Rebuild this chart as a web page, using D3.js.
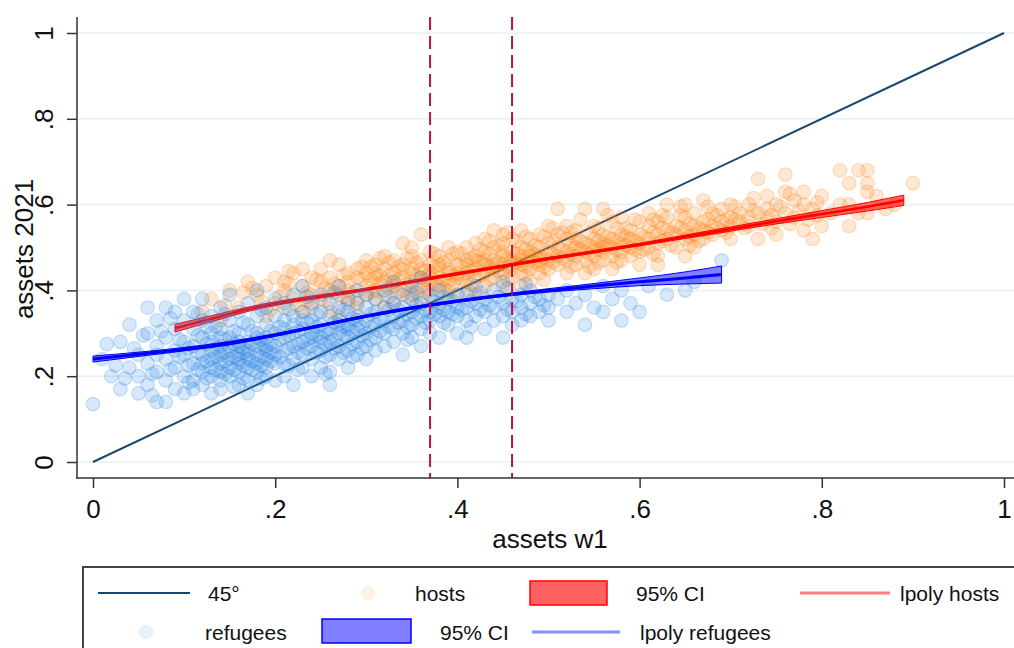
<!DOCTYPE html>
<html><head><meta charset="utf-8">
<script src="https://cdn.jsdelivr.net/npm/d3@7"></script>
<style>
html,body{margin:0;padding:0;background:#fff;}
svg{display:block;font-family:"Liberation Sans",Arial,Helvetica,sans-serif;}
</style></head>
<body>
<svg id="chart" width="1014" height="648"></svg>
<script>
// ---------- DATA ----------
const yTicks = [0, 0.2, 0.4, 0.6, 0.8, 1];
const xTicks = [0, 0.2, 0.4, 0.6, 0.8, 1];
const tickLabels = ["0", ".2", ".4", ".6", ".8", "1"];
const vLines = [0.37, 0.46];
const diag = [[0, 0], [1, 1]];

const hosts = [
[.12,.35],[.13,.38],[.14,.33],[.15,.40],[.16,.36],[.17,.42],[.18,.39],[.19,.34],[.19,.41],[.20,.37],
[.20,.43],[.21,.36],[.21,.40],[.22,.38],[.22,.44],[.23,.35],[.23,.41],[.24,.39],[.24,.43],[.24,.36],[.25,.42],[.25,.38],[.25,.45],[.26,.40],[.26,.35],[.26,.43],[.27,.39],[.27,.41],[.27,.46],[.28,.37],[.28,.42],[.28,.44],[.28,.40],[.29,.38],[.29,.43],[.29,.45],[.29,.36],[.30,.41],[.30,.44],[.30,.39],[.30,.47],[.23,.45],[.26,.47],[.21,.42],[.27,.34],
[.31,.40],[.31,.43],[.31,.46],[.31,.38],[.32,.42],[.32,.45],[.32,.48],[.32,.39],[.33,.41],[.33,.44],[.33,.47],[.33,.37],[.34,.43],[.34,.46],[.34,.40],[.34,.51],[.35,.42],[.35,.45],[.35,.48],[.35,.39],[.35,.44],[.36,.41],[.36,.43],[.36,.47],[.36,.53],[.36,.38],[.37,.44],[.37,.42],[.37,.46],[.37,.49],[.37,.40],[.38,.43],[.38,.45],[.38,.41],[.38,.48],[.38,.37],[.39,.44],[.39,.42],[.39,.47],[.39,.50],[.39,.40],[.40,.43],[.40,.46],[.40,.44],[.40,.49],[.40,.39],[.31,.44],[.33,.42],[.34,.45],[.36,.45],[.37,.43],[.38,.46],[.39,.45],[.32,.36],[.35,.50],
[.41,.44],[.41,.47],[.41,.42],[.41,.50],[.42,.45],[.42,.48],[.42,.43],[.42,.51],[.42,.39],[.43,.46],[.43,.44],[.43,.49],[.43,.52],[.43,.41],[.44,.45],[.44,.47],[.44,.50],[.44,.43],[.44,.54],[.45,.46],[.45,.48],[.45,.44],[.45,.51],[.45,.41],[.46,.47],[.46,.45],[.46,.49],[.46,.52],[.46,.43],[.47,.46],[.47,.48],[.47,.50],[.47,.44],[.47,.54],[.48,.47],[.48,.45],[.48,.49],[.48,.52],[.48,.42],[.49,.48],[.49,.46],[.49,.50],[.49,.53],[.49,.44],[.50,.47],[.50,.49],[.50,.51],[.50,.45],[.50,.55],[.41,.46],[.43,.47],[.44,.46],[.45,.49],[.46,.46],[.47,.47],[.48,.48],[.49,.47],[.42,.47],[.45,.53],[.47,.41],
[.51,.48],[.51,.50],[.51,.46],[.51,.53],[.51,.59],[.52,.49],[.52,.47],[.52,.52],[.52,.44],[.52,.55],[.53,.48],[.53,.50],[.53,.46],[.53,.54],[.54,.49],[.54,.51],[.54,.47],[.54,.59],[.54,.44],[.55,.50],[.55,.48],[.55,.52],[.55,.55],[.55,.45],[.56,.49],[.56,.51],[.56,.47],[.56,.59],[.56,.53],[.57,.50],[.57,.52],[.57,.48],[.57,.56],[.57,.45],[.58,.51],[.58,.49],[.58,.53],[.58,.47],[.58,.57],[.59,.50],[.59,.52],[.59,.54],[.59,.48],[.60,.51],[.60,.53],[.60,.49],[.60,.56],[.60,.46],[.53,.52],[.56,.50],
[.61,.52],[.61,.50],[.61,.55],[.61,.58],[.62,.53],[.62,.51],[.62,.56],[.62,.48],[.63,.52],[.63,.54],[.63,.57],[.63,.60],[.64,.53],[.64,.50],[.64,.55],[.65,.48],[.65,.54],[.65,.52],[.65,.57],[.65,.60],[.66,.53],[.66,.55],[.66,.50],[.66,.58],[.67,.54],[.67,.56],[.67,.52],[.67,.61],[.68,.55],[.68,.53],[.68,.58],[.69,.56],[.69,.54],[.69,.59],[.70,.55],[.70,.57],[.70,.52],[.70,.60],[.62,.46],
[.71,.56],[.71,.58],[.72,.57],[.72,.60],[.72,.55],[.73,.58],[.73,.52],[.73,.66],[.74,.57],[.74,.59],[.74,.62],[.75,.56],[.75,.53],[.75,.60],[.76,.58],[.76,.63],[.76,.67],[.77,.57],[.77,.61],[.78,.54],[.78,.60],[.79,.59],[.79,.52],[.80,.62],[.80,.55],[.78,.63],
[.81,.58],[.82,.60],[.82,.68],[.83,.55],[.83,.60],[.83,.65],[.84,.68],[.84,.58],[.85,.63],[.85,.68],[.85,.65],[.86,.62],[.87,.59],[.88,.60],[.90,.65],[.85,.58],
[.205,.385],[.215,.415],[.225,.365],[.235,.395],[.245,.425],[.255,.375],[.265,.415],[.275,.435],[.285,.395],[.295,.425],[.215,.445],[.235,.375],[.255,.405],[.275,.385],[.295,.455],[.185,.375],[.165,.395],[.145,.365],[.175,.405],[.195,.355],
[.305,.425],[.305,.455],[.315,.415],[.315,.475],[.325,.435],[.325,.405],[.335,.455],[.335,.425],[.345,.415],[.345,.475],[.355,.435],[.355,.465],[.365,.425],[.365,.395],[.375,.455],[.375,.485],[.385,.425],[.385,.465],[.395,.435],[.395,.415],[.305,.395],[.325,.465],[.345,.385],[.365,.445],[.385,.405],[.395,.485],[.315,.435],[.355,.405],[.375,.415],[.335,.395],
[.405,.455],[.405,.425],[.405,.485],[.415,.445],[.415,.475],[.415,.415],[.425,.465],[.425,.435],[.425,.495],[.435,.455],[.435,.485],[.435,.425],[.445,.465],[.445,.445],[.445,.505],[.455,.475],[.455,.455],[.455,.425],[.465,.485],[.465,.465],[.465,.515],[.475,.455],[.475,.495],[.475,.435],[.485,.465],[.485,.505],[.485,.485],[.495,.475],[.495,.455],[.495,.525],[.415,.395],[.455,.535],[.475,.525],[.435,.515],[.495,.425],
[.505,.485],[.505,.465],[.505,.515],[.515,.495],[.515,.475],[.515,.535],[.525,.505],[.525,.485],[.525,.455],[.535,.495],[.535,.515],[.535,.565],[.545,.505],[.545,.485],[.545,.535],[.555,.515],[.555,.495],[.555,.465],[.565,.505],[.565,.525],[.565,.575],[.575,.495],[.575,.515],[.575,.465],[.585,.525],[.585,.505],[.585,.545],[.595,.515],[.595,.495],[.595,.565],[.545,.455],[.505,.545],[.525,.535],[.575,.545],[.555,.545],
[.605,.525],[.605,.495],[.615,.535],[.615,.565],[.625,.515],[.625,.545],[.635,.535],[.635,.505],[.645,.545],[.645,.575],[.655,.525],[.655,.555],[.665,.545],[.665,.515],[.675,.565],[.675,.535],[.685,.545],[.685,.575],[.695,.535],[.695,.565],[.615,.485],[.645,.595],[.675,.595],[.625,.575],[.655,.505],
[.705,.565],[.715,.545],[.725,.585],[.735,.555],[.745,.575],[.755,.595],[.765,.555],[.775,.585],[.785,.565],[.795,.605],[.705,.595],[.725,.615],[.745,.545],[.765,.625],[.795,.575]
];

const refugees = [
[.00,.135],[.01,.24],[.02,.20],[.03,.28],[.03,.17],[.04,.32],[.05,.16],[.05,.20],[.05,.25],[.04,.22],
[.06,.18],[.06,.23],[.06,.30],[.06,.36],[.07,.14],[.07,.21],[.07,.27],[.07,.33],[.08,.19],[.08,.24],[.08,.36],[.08,.29],[.08,.14],[.09,.17],[.09,.22],[.09,.26],[.09,.31],[.09,.35],[.10,.16],[.10,.20],[.10,.25],[.10,.28],[.10,.33],[.10,.38],[.07,.25],
[.11,.19],[.11,.23],[.11,.27],[.11,.31],[.11,.35],[.11,.17],[.12,.21],[.12,.25],[.12,.29],[.12,.33],[.12,.38],[.12,.18],[.13,.22],[.13,.26],[.13,.24],[.13,.30],[.13,.34],[.13,.16],[.13,.20],[.14,.23],[.14,.27],[.14,.25],[.14,.31],[.14,.36],[.14,.19],[.14,.17],[.15,.22],[.15,.26],[.15,.24],[.15,.29],[.15,.33],[.15,.39],[.15,.20],[.16,.23],[.16,.27],[.16,.25],[.16,.21],[.16,.30],[.16,.35],[.16,.18],[.17,.24],[.17,.22],[.17,.28],[.17,.26],[.17,.32],[.17,.37],[.17,.19],[.17,.16],[.18,.23],[.18,.25],[.18,.27],[.18,.21],[.18,.30],[.18,.34],[.18,.40],[.18,.18],[.19,.24],[.19,.26],[.19,.22],[.19,.29],[.19,.32],[.19,.36],[.19,.20],[.20,.25],[.20,.27],[.20,.23],[.20,.30],[.20,.34],[.20,.19],[.20,.38],[.12,.23],[.14,.29],[.16,.24],[.17,.25],[.19,.27],[.15,.27],[.13,.28],[.18,.29],[.16,.28],[.14,.21],
[.21,.26],[.21,.29],[.21,.23],[.21,.33],[.21,.37],[.21,.20],[.22,.27],[.22,.30],[.22,.24],[.22,.34],[.22,.39],[.22,.18],[.23,.28],[.23,.25],[.23,.31],[.23,.35],[.23,.22],[.23,.41],[.24,.27],[.24,.30],[.24,.33],[.24,.24],[.24,.37],[.24,.20],[.25,.29],[.25,.26],[.25,.32],[.25,.35],[.25,.22],[.25,.39],[.26,.28],[.26,.31],[.26,.25],[.26,.34],[.26,.37],[.26,.21],[.27,.30],[.27,.27],[.27,.33],[.27,.36],[.27,.24],[.27,.41],[.28,.29],[.28,.32],[.28,.26],[.28,.35],[.28,.22],[.28,.38],[.29,.31],[.29,.28],[.29,.34],[.29,.25],[.29,.37],[.29,.40],[.30,.30],[.30,.33],[.30,.27],[.30,.36],[.30,.24],[.30,.39],[.22,.32],[.24,.29],[.26,.30],[.28,.31],[.25,.28],[.23,.33],[.27,.32],[.29,.33],[.21,.31],[.26,.18],
[.31,.32],[.31,.35],[.31,.29],[.31,.38],[.31,.26],[.32,.33],[.32,.36],[.32,.30],[.32,.40],[.32,.27],[.33,.34],[.33,.31],[.33,.37],[.33,.28],[.33,.42],[.34,.33],[.34,.36],[.34,.30],[.34,.39],[.34,.25],[.35,.35],[.35,.32],[.35,.38],[.35,.29],[.35,.41],[.36,.34],[.36,.37],[.36,.31],[.36,.27],[.37,.35],[.37,.33],[.37,.39],[.37,.30],[.38,.36],[.38,.34],[.38,.40],[.38,.29],[.39,.35],[.39,.38],[.39,.32],[.40,.36],[.40,.34],[.40,.39],[.40,.30],[.36,.43],
[.41,.36],[.41,.33],[.41,.39],[.41,.29],[.42,.37],[.42,.34],[.42,.41],[.43,.35],[.43,.38],[.43,.31],[.44,.36],[.44,.40],[.44,.33],[.45,.37],[.45,.34],[.45,.42],[.45,.29],[.46,.38],[.46,.35],[.46,.32],[.47,.36],[.47,.39],[.47,.33],[.48,.37],[.48,.40],[.48,.34],[.49,.38],[.49,.35],[.50,.36],[.50,.39],[.50,.33],
[.51,.38],[.52,.35],[.52,.40],[.53,.37],[.54,.32],[.54,.39],[.55,.36],[.56,.35],[.56,.41],[.57,.38],[.58,.40],[.59,.37],[.60,.35],[.61,.41],[.63,.39],[.65,.40],[.66,.42],[.69,.47],[.58,.33],
[.015,.275],[.025,.225],[.035,.195],[.045,.265],[.055,.295],[.065,.205],[.075,.305],[.085,.215],[.095,.245],[.065,.155],[.085,.335],[.095,.285],
[.105,.225],[.105,.265],[.115,.215],[.115,.255],[.115,.295],[.125,.235],[.125,.275],[.125,.195],[.135,.245],[.135,.215],[.135,.265],[.135,.315],[.145,.235],[.145,.255],[.145,.285],[.145,.205],[.155,.245],[.155,.215],[.155,.275],[.155,.305],[.165,.225],[.165,.255],[.165,.265],[.165,.195],[.175,.235],[.175,.275],[.175,.215],[.175,.305],[.185,.245],[.185,.265],[.185,.225],[.185,.285],[.195,.255],[.195,.235],[.195,.275],[.195,.305],[.125,.315],[.145,.345],[.165,.325],[.185,.355],[.105,.185],[.155,.175],[.185,.195],[.115,.345],
[.205,.285],[.205,.245],[.205,.315],[.215,.265],[.215,.295],[.215,.225],[.225,.275],[.225,.255],[.225,.305],[.235,.285],[.235,.265],[.235,.325],[.245,.295],[.245,.255],[.245,.315],[.255,.275],[.255,.305],[.255,.245],[.265,.285],[.265,.325],[.265,.265],[.275,.295],[.275,.315],[.275,.255],[.285,.305],[.285,.275],[.285,.335],[.295,.295],[.295,.315],[.295,.265],[.215,.355],[.245,.345],[.275,.355],[.225,.215],[.255,.205],[.285,.245],[.235,.385],[.265,.395],
[.305,.315],[.305,.345],[.315,.305],[.315,.335],[.325,.355],[.325,.315],[.335,.325],[.335,.355],[.345,.345],[.345,.315],[.355,.335],[.355,.365],[.365,.325],[.365,.355],[.375,.345],[.375,.375],[.385,.325],[.385,.355],[.395,.345],[.395,.375],[.305,.285],[.325,.385],[.355,.395],[.385,.385],[.345,.285],
[.405,.355],[.415,.375],[.425,.355],[.435,.365],[.445,.385],[.455,.355],[.465,.375],[.475,.345],[.485,.385],[.495,.365],[.425,.395],[.455,.405],[.415,.315],[.475,.415]
];

// local polynomial fits and 95% CI half-widths
const hostFitX  = [0.09, 0.13, 0.17, 0.21, 0.25, 0.29, 0.33, 0.37, 0.42, 0.46, 0.50, 0.55, 0.60, 0.65, 0.70, 0.75, 0.80, 0.85, 0.89];
const hostFitY  = [0.312,0.334,0.356,0.373,0.386,0.399,0.413,0.428,0.446,0.460,0.474,0.490,0.507,0.525,0.543,0.561,0.578,0.595,0.610];
const hostCIhw  = [0.009,0.007,0.005,0.004,0.004,0.003,0.003,0.003,0.003,0.003,0.003,0.003,0.003,0.004,0.005,0.006,0.008,0.010,0.012];
const refFitX   = [0.00, 0.05, 0.10, 0.15, 0.20, 0.25, 0.30, 0.35, 0.40, 0.46, 0.50, 0.55, 0.60, 0.65, 0.69];
const refFitY   = [0.240,0.251,0.263,0.277,0.296,0.318,0.340,0.359,0.375,0.391,0.400,0.410,0.420,0.429,0.437];
const refCIhw   = [0.007,0.005,0.004,0.004,0.003,0.003,0.003,0.003,0.003,0.003,0.004,0.006,0.009,0.014,0.020];

const legendRow1 = ["45°", "hosts", "95% CI", "lpoly hosts"];
const legendRow2 = ["refugees", "95% CI", "lpoly refugees"];

// ---------- LAYOUT ----------
const svg = d3.select("#chart");
const X0 = 77, Y0 = 478, YTOP = 17, XRIGHT = 1014;
const x = d3.scaleLinear().domain([0, 1]).range([93, 1004]);
const y = d3.scaleLinear().domain([0, 1]).range([462, 33]);

const navy = "#1a476f", orange = "#ff8617", blue = "#2a86e4", crimson = "#b8143f";

svg.append("g").selectAll("line").data(yTicks).join("line")
  .attr("x1", X0).attr("x2", XRIGHT).attr("y1", d => y(d)).attr("y2", d => y(d))
  .attr("stroke", "#e8f0f2").attr("stroke-width", 1.5);

svg.append("path").datum(diag)
  .attr("d", d3.line().x(d => x(d[0])).y(d => y(d[1])))
  .attr("stroke", navy).attr("stroke-width", 2).attr("fill", "none");

function scatter(data, col) {
  svg.append("g").selectAll("circle").data(data).join("circle")
    .attr("cx", d => x(d[0])).attr("cy", d => y(d[1])).attr("r", 6.8)
    .attr("fill", col).attr("fill-opacity", 0.19)
    .attr("stroke", col).attr("stroke-opacity", 0.24).attr("stroke-width", 1.2);
}
function band(xs, ys, hw, col, fillOp, lw) {
  const pts = xs.map((v, i) => ({x: v, y: ys[i], h: hw[i]}));
  svg.append("path").datum(pts)
    .attr("d", d3.area().curve(d3.curveMonotoneX).x(d => x(d.x)).y0(d => y(d.y - d.h)).y1(d => y(d.y + d.h)))
    .attr("fill", col).attr("fill-opacity", fillOp).attr("stroke", col).attr("stroke-width", 1);
  svg.append("path").datum(pts)
    .attr("d", d3.line().curve(d3.curveMonotoneX).x(d => x(d.x)).y(d => y(d.y)))
    .attr("fill", "none").attr("stroke", col).attr("stroke-width", lw);
}

scatter(hosts, orange);
band(hostFitX, hostFitY, hostCIhw, "#ff0000", 0.6, 2.6);
scatter(refugees, blue);
band(refFitX, refFitY, refCIhw, "#0000ff", 0.5, 3);

svg.append("g").selectAll("line").data(vLines).join("line")
  .attr("x1", d => x(d)).attr("x2", d => x(d)).attr("y1", YTOP).attr("y2", Y0)
  .attr("stroke", crimson).attr("stroke-width", 2).attr("stroke-dasharray", "13,6");

const ax = svg.append("g").attr("transform", `translate(0,${Y0})`)
  .call(d3.axisBottom(x).tickValues(xTicks).tickFormat(d => tickLabels[xTicks.indexOf(d)]).tickSize(10).tickPadding(12));
ax.select(".domain").remove();
ax.selectAll("text").attr("font-size", 26).attr("fill", "#111").attr("font-family", "Liberation Sans, Arial");
ax.selectAll("line").attr("stroke", "#333").attr("stroke-width", 1.5);

const ay = svg.append("g").attr("transform", `translate(${X0},0)`)
  .call(d3.axisLeft(y).tickValues(yTicks).tickFormat(d => tickLabels[yTicks.indexOf(d)]).tickSize(10));
ay.select(".domain").remove();
ay.selectAll("line").attr("stroke", "#333").attr("stroke-width", 1.5);
ay.selectAll("text").attr("transform", "rotate(-90)").attr("x", 0).attr("y", -24).attr("dy", 0)
  .attr("text-anchor", "middle").attr("font-size", 26).attr("fill", "#111").attr("font-family", "Liberation Sans, Arial");

svg.append("line").attr("x1", X0).attr("x2", X0).attr("y1", YTOP).attr("y2", Y0 + 0.75)
  .attr("stroke", "#333").attr("stroke-width", 1.5);
svg.append("line").attr("x1", X0 - 0.75).attr("x2", XRIGHT).attr("y1", Y0).attr("y2", Y0)
  .attr("stroke", "#333").attr("stroke-width", 1.5);

svg.append("text").attr("x", 550).attr("y", 548).attr("text-anchor", "middle")
  .attr("font-size", 26).attr("fill", "#111").text("assets w1");
svg.append("text").attr("transform", "translate(33,249) rotate(-90)").attr("text-anchor", "middle")
  .attr("font-size", 26).attr("fill", "#111").text("assets 2021");

const lg = svg.append("g");
lg.append("rect").attr("x", 83).attr("y", 567).attr("width", 950).attr("height", 100)
  .attr("fill", "#fff").attr("stroke", "#444").attr("stroke-width", 2);
const r1 = 593, r2 = 632, fs = 21;
function ltext(tx, ty, s) {
  lg.append("text").attr("x", tx).attr("y", ty + 7.5).attr("font-size", fs).attr("fill", "#111").text(s);
}
lg.append("line").attr("x1", 98).attr("x2", 190).attr("y1", r1).attr("y2", r1).attr("stroke", navy).attr("stroke-width", 2);
ltext(208, r1, legendRow1[0]);
lg.append("circle").attr("cx", 368).attr("cy", r1).attr("r", 6.5).attr("fill", orange).attr("fill-opacity", 0.1)
  .attr("stroke", orange).attr("stroke-opacity", 0.12);
ltext(415, r1, legendRow1[1]);
lg.append("rect").attr("x", 530).attr("y", 581).attr("width", 77).attr("height", 24)
  .attr("fill", "#ff0000").attr("fill-opacity", 0.62).attr("stroke", "#ff0000").attr("stroke-width", 1.5);
ltext(636, r1, legendRow1[2]);
lg.append("line").attr("x1", 800).attr("x2", 890).attr("y1", r1).attr("y2", r1).attr("stroke", "#ff0000")
  .attr("stroke-opacity", 0.5).attr("stroke-width", 3);
ltext(900, r1, legendRow1[3]);
lg.append("circle").attr("cx", 146).attr("cy", r2).attr("r", 6.5).attr("fill", blue).attr("fill-opacity", 0.1)
  .attr("stroke", blue).attr("stroke-opacity", 0.12);
ltext(205, r2, legendRow2[0]);
lg.append("rect").attr("x", 322).attr("y", 619).attr("width", 89).attr("height", 24)
  .attr("fill", "#0000ff").attr("fill-opacity", 0.5).attr("stroke", "#0000ff").attr("stroke-width", 1.5);
ltext(440, r2, legendRow2[1]);
lg.append("line").attr("x1", 532).attr("x2", 620).attr("y1", r2).attr("y2", r2).attr("stroke", "#0000ff")
  .attr("stroke-opacity", 0.45).attr("stroke-width", 3);
ltext(640, r2, legendRow2[2]);
</script>
</body></html>
